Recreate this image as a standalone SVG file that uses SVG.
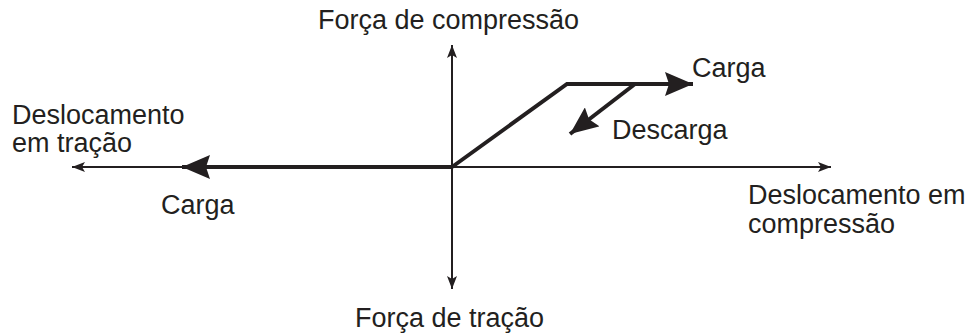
<svg xmlns="http://www.w3.org/2000/svg" width="971" height="334" viewBox="0 0 971 334">
<defs>
<style>
text{font-family:"Liberation Sans",Arial,sans-serif;font-size:27px;fill:#231f20}
.axis{stroke:#231f20;stroke-width:2;fill:none}
.thick{stroke:#231f20;stroke-width:4;fill:none}
</style>
<marker id="small" viewBox="0 0 13 10" refX="13" refY="5" markerWidth="13" markerHeight="10" markerUnits="userSpaceOnUse" orient="auto"><path d="M0,0 L13,5 L0,10 L3,5 Z" fill="#231f20"/></marker>
<marker id="big" viewBox="0 0 28 24" refX="28" refY="12" markerWidth="28" markerHeight="24" markerUnits="userSpaceOnUse" orient="auto"><path d="M0,0 L28,12 L0,24 L4,12 Z" fill="#231f20"/></marker>
</defs>
<rect width="971" height="334" fill="#fff"/>
<g id="connectors">
<line class="axis" x1="452" y1="167" x2="452" y2="45" marker-end="url(#small)"/>
<line class="axis" x1="452" y1="167" x2="452" y2="289" marker-end="url(#small)"/>
<line class="axis" x1="452" y1="167" x2="831" y2="167" marker-end="url(#small)"/>
<line class="axis" x1="452" y1="167" x2="72" y2="167" marker-end="url(#small)"/>
<polyline class="thick" points="452,167 567,84 693,84" marker-end="url(#big)"/>
<line class="thick" x1="635" y1="84" x2="570" y2="134" marker-end="url(#big)"/>
<line class="thick" x1="452" y1="167" x2="182" y2="167" marker-end="url(#big)"/>
</g>
<g id="labels">
<text x="318" y="29">Força de compressão</text>
<text x="355" y="327">Força de tração</text>
<text x="12" y="124">Deslocamento</text>
<text x="12" y="152">em tração</text>
<text x="748" y="204">Deslocamento em</text>
<text x="748" y="233">compressão</text>
<text x="692" y="77">Carga</text>
<text x="612" y="139">Descarga</text>
<text x="161" y="214">Carga</text>
</g>
</svg>
